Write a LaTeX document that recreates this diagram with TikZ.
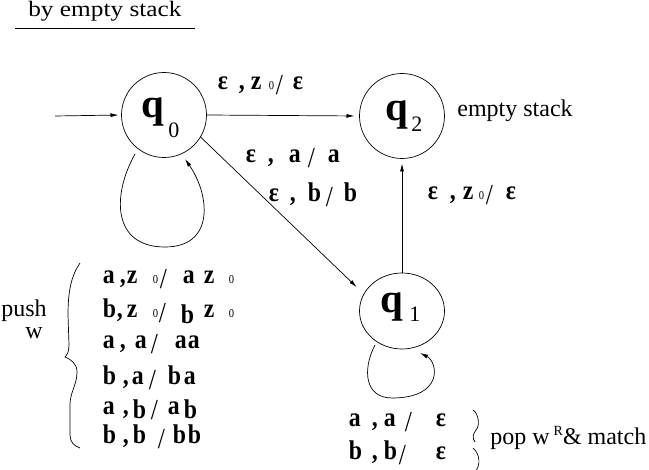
\documentclass[tikz,border=0pt]{standalone}
\usepackage{fontspec}
\setmainfont{Liberation Serif}
\usetikzlibrary{arrows.meta,shapes.geometric,calc}
\newcommand\putat[2]{\makebox[0pt][l]{\hspace*{#1pt}\scalebox{0.88}[1]{#2}}}
\newcommand\putr[3]{\makebox[0pt][l]{\hspace*{#1pt}\raisebox{#2pt}[0pt][0pt]{\scalebox{0.88}[1]{#3}}}}
\newcommand\zsub{{\fontsize{12}{12}\selectfont\mdseries 0}}
\newcommand\slsh{\raisebox{-5pt}[0pt][0pt]{\fontsize{29}{29}\selectfont\mdseries /}}
\begin{document}
\begin{tikzpicture}[x=1pt,y=-1pt,line width=0.7pt,
  arr/.style={-{Latex[length=8pt,width=4pt]}},
  st/.style={draw,circle,minimum size=85pt,inner sep=0pt,outer sep=0pt},
  lab/.style={inner sep=0pt,anchor=base west,font=\fontsize{27}{29}\selectfont\bfseries},
  txt/.style={inner sep=0pt,anchor=base west,font=\fontsize{24}{26}\selectfont},
  qn/.style={inner sep=0pt,anchor=base west,font=\fontsize{41}{43}\selectfont\bfseries},
  qs/.style={inner sep=0pt,anchor=base west,font=\fontsize{22}{24}\selectfont}]
\useasboundingbox (0,0) rectangle (649,470);
% states
\node[st] (q0) at (164,115) {};
\node[st] (q2) at (402,116) {};
\node[draw,ellipse,minimum width=85pt,minimum height=76pt,inner sep=0pt,outer sep=0pt] (q1) at (402,311) {};
\node[qn] (q0q) at (141,118) {q};
\node[qs] (q0s) at (168,138) {0};
\node[qn] (q2q) at (385,121) {q};
\node[qs] (q2s) at (411,132) {2};
\node[qn] (q1q) at (380,313) {q};
\node[qs] (q1s) at (409,322) {1};
% texts
\node[txt,font=\fontsize{22}{24}\selectfont] (title) at (28,17) {\scalebox{1.15}[1]{by empty stack}};
\coordinate (ul1) at (15,28);
\coordinate (ul2) at (195,28);
\draw (ul1) -- (ul2);
\node[txt] (es) at (457,117) {empty stack};
\node[txt] (push) at (1,317) {push};
\node[txt] (w) at (25,339) {w};
% edge labels
\node[lab] (e1) at (217,90) {\putat{0}{ε}\putat{21}{,}\putat{33}{z}\putat{51}{\zsub}\putat{58}{\slsh}\putat{75}{ε}};
\node[lab] (e2) at (245,163) {\putat{0}{ε}\putat{22}{,}\putat{43}{a}\putat{62}{\slsh}\putat{82}{a}};
\node[lab] (e3) at (268,202) {\putat{0}{ε}\putat{21}{,}\putat{39}{b}\putat{57}{\slsh}\putat{75}{b}};
\node[lab] (e4) at (427,200) {\putat{0}{ε}\putat{22}{,}\putat{35}{z}\putat{51}{\zsub}\putat{58}{\slsh}\putat{78}{ε}};
% push lines
\node[lab] (l1) at (102,284) {\putat{0}{a}\putat{17}{,}\putat{24}{z}\putat{50}{\zsub}\putat{57}{\slsh}\putat{80}{a}\putat{101}{z}\putat{126}{\zsub}};
\node[lab] (l2) at (102,318) {\putat{0}{b}\putat{14}{,}\putat{24}{z}\putat{50}{\zsub}\putat{56}{\slsh}\putr{78}{-6}{b}\putat{101}{z}\putat{126}{\zsub}};
\node[lab] (l3) at (102,349) {\putat{0}{a}\putat{17}{,}\putat{32}{a}\putat{48}{\slsh}\putat{72}{a}\putat{85}{a}};
\node[lab] (l4) at (102,385) {\putat{0}{b}\putat{20}{,}\putat{29}{a}\putat{46}{\slsh}\putat{65}{b}\putat{81}{a}};
\node[lab] (l5) at (102,415) {\putat{0}{a}\putat{20}{,}\putr{30}{-4}{b}\putat{48}{\slsh}\putat{65}{a}\putr{81}{-4}{b}};
\node[lab] (l6) at (102,444) {\putat{0}{b}\putat{20}{,}\putat{30}{b}\putat{55}{\slsh}\putat{70}{b}\putat{85}{b}};
% pop lines
\node[lab] (r1) at (348,427) {\putat{0}{a}\putat{23}{,}\putat{35}{a}\putat{56}{\slsh}\putat{87}{ε}};
\node[lab] (r2) at (348,460) {\putat{0}{b}\putat{23}{,}\putat{35}{b}\putat{50}{\slsh}\putat{87}{ε}};
\node[txt] (pop) at (490,445) {pop w\,\raisebox{9pt}{\fontsize{14}{14}\selectfont R}\&~match};
% braces
\draw (80,263) .. controls (71,276) and (68,292) .. (68,315) -- (69,345) .. controls (69,352) and (67,355) .. (65,357) .. controls (72,360) and (77,364) .. (77,372) .. controls (77,385) and (70,392) .. (70,405) -- (70,435) .. controls (70,442) and (74,446) .. (80,448);
\draw (473,410) .. controls (479,414) and (480,426) .. (476,430) .. controls (473,434) and (472,438) .. (475,442);
\draw (473,448) .. controls (480,454) and (481,465) .. (475,472);
% transitions
\coordinate (init) at (55,116);
\draw[arr,shorten >=3pt] (init) -- (q0.west);
\draw[arr,shorten >=5pt] (q0.east) -- (q2.west);
\draw[arr,shorten >=10pt] (q0.-31) -- (q1.156);
\draw[arr,shorten >=5pt] (q1.north) -- (q2.south);
\draw[arr] ($(q0.center)+(-29,39)$) .. controls (112,195) and (112,247) .. (165,247) .. controls (215,247) and (210,195) .. ($(q0.center)+(21,44)$);
\draw[arr] ($(q1.center)+(-27,34)$) .. controls (362,370) and (365,398) .. (392,398) .. controls (444,398) and (438,362) .. ($(q1.center)+(18,42)$);
\end{tikzpicture}
\end{document}
